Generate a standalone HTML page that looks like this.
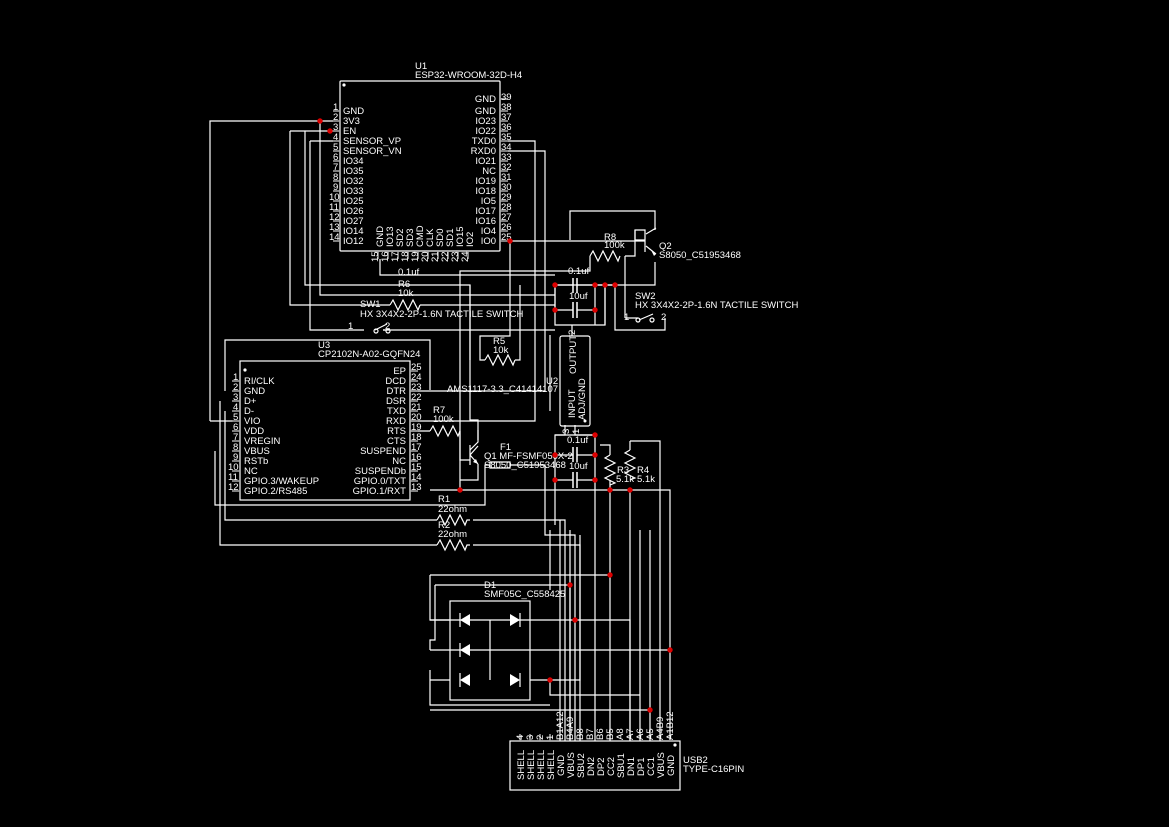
<!DOCTYPE html>
<html><head><meta charset="utf-8"><style>
html,body{margin:0;padding:0;background:#000;}
svg{display:block;}
text{font-family:"Liberation Sans",sans-serif;font-size:9.5px;fill:#fff;}
.w{stroke:#fff;stroke-width:1.2;fill:none;}
.p{stroke:#aaa;stroke-width:1.5;fill:none;}
.d{fill:#d00;}
</style></head><body>
<svg width="1169" height="827" viewBox="0 0 1169 827" xmlns="http://www.w3.org/2000/svg">
<rect width="1169" height="827" fill="#000"/>

<!-- U1 -->
<text x="415" y="69">U1</text>
<text x="415" y="78">ESP32-WROOM-32D-H4</text>
<rect x="340" y="81" width="160" height="170" class="w" rx="1"/>
<circle cx="344" cy="85" r="1.6" fill="#fff"/>
<g class="p">
<path d="M333 111h7M333 121h7M333 131h7M333 141h7M333 151h7M333 161h7M333 171h7M333 181h7M333 191h7M333 201h7M333 211h7M333 221h7M333 231h7M333 241h7"/>
<path d="M500 99h8M500 111h8M500 121h8M500 131h8M500 141h8M500 151h8M500 161h8M500 171h8M500 181h8M500 191h8M500 201h8M500 211h8M500 221h8M500 231h8M500 241h8"/>
<path d="M378 251v8M388 251v8M398 251v8M408 251v8M418 251v8M428 251v8M438 251v8M448 251v8M458 251v8M468 251v8"/>
</g>
<g font-size="9">
<text x="333" y="110">1</text><text x="333" y="120">2</text><text x="333" y="130">3</text><text x="333" y="140">4</text><text x="333" y="150">5</text><text x="333" y="160">6</text><text x="333" y="170">7</text><text x="333" y="180">8</text><text x="333" y="190">9</text><text x="329" y="200">10</text><text x="329" y="210">11</text><text x="329" y="220">12</text><text x="329" y="230">13</text><text x="329" y="240">14</text>
<text x="501" y="100">39</text><text x="501" y="110">38</text><text x="501" y="120">37</text><text x="501" y="130">36</text><text x="501" y="140">35</text><text x="501" y="150">34</text><text x="501" y="160">33</text><text x="501" y="170">32</text><text x="501" y="180">31</text><text x="501" y="190">30</text><text x="501" y="200">29</text><text x="501" y="210">28</text><text x="501" y="220">27</text><text x="501" y="230">26</text><text x="501" y="240">25</text>
</g>
<g>
<text x="343" y="114">GND</text><text x="343" y="124">3V3</text><text x="343" y="134">EN</text><text x="343" y="144">SENSOR_VP</text><text x="343" y="154">SENSOR_VN</text><text x="343" y="164">IO34</text><text x="343" y="174">IO35</text><text x="343" y="184">IO32</text><text x="343" y="194">IO33</text><text x="343" y="204">IO25</text><text x="343" y="214">IO26</text><text x="343" y="224">IO27</text><text x="343" y="234">IO14</text><text x="343" y="244">IO12</text>
</g>
<g text-anchor="end">
<text x="496" y="102">GND</text><text x="496" y="114">GND</text><text x="496" y="124">IO23</text><text x="496" y="134">IO22</text><text x="496" y="144">TXD0</text><text x="496" y="154">RXD0</text><text x="496" y="164">IO21</text><text x="496" y="174">NC</text><text x="496" y="184">IO19</text><text x="496" y="194">IO18</text><text x="496" y="204">IO5</text><text x="496" y="214">IO17</text><text x="496" y="224">IO16</text><text x="496" y="234">IO4</text><text x="496" y="244">IO0</text>
</g>
<g>
<text transform="translate(383,247) rotate(-90)">GND</text><text transform="translate(393,247) rotate(-90)">IO13</text><text transform="translate(403,247) rotate(-90)">SD2</text><text transform="translate(413,247) rotate(-90)">SD3</text><text transform="translate(423,247) rotate(-90)">CMD</text><text transform="translate(433,247) rotate(-90)">CLK</text><text transform="translate(443,247) rotate(-90)">SD0</text><text transform="translate(453,247) rotate(-90)">SD1</text><text transform="translate(463,247) rotate(-90)">IO15</text><text transform="translate(473,247) rotate(-90)">IO2</text>
</g>
<g font-size="9">
<text transform="translate(378,262) rotate(-90)">15</text><text transform="translate(388,262) rotate(-90)">16</text><text transform="translate(398,262) rotate(-90)">17</text><text transform="translate(408,262) rotate(-90)">18</text><text transform="translate(418,262) rotate(-90)">19</text><text transform="translate(428,262) rotate(-90)">20</text><text transform="translate(438,262) rotate(-90)">21</text><text transform="translate(448,262) rotate(-90)">22</text><text transform="translate(458,262) rotate(-90)">23</text><text transform="translate(468,262) rotate(-90)">24</text>
</g>

<!-- wires top -->
<g class="w">
<path d="M210 421V121H333"/>
<path d="M210 421H233"/>
<path d="M290 131H333M290 131V305H390M420 305H555"/>
<path d="M305 131V285H470V360"/>
<path d="M320 121V295H555"/>
<path d="M310 141H333M310 141V330H360M383 330H555"/>
<path d="M380 259V275H555"/>
<path d="M508 141H535V421H410"/>
<path d="M508 151H545V391H410"/>
<path d="M508 241H645M570 240V211H655V230M655 262V285H555"/>
<path d="M510 241V336H480V360H485M515 360H520V285"/>
<path d="M460 490V271H590V256M625 256H635V230M625 256V318"/>
<path d="M555 285V325H605V285M572 325V336"/>
<path d="M555 285V310H573M577 310H595M573 285H555M577 285H615"/>
<path d="M595 285V310M595 285V325"/>
<path d="M615 285V330H665V318M625 318H632"/>
<path d="M605 285V325"/>
<path d="M550 411V335"/>
<path d="M565 425V435H555V525M575 425V435H595V530"/>
<path d="M555 435H595M555 455H573M577 455H595M555 480H573M577 480H595"/>
<path d="M430 390V340H225V391"/>
<path d="M430 490H670V740M610 490V741M630 490V741"/>
<path d="M600 445H610V455M610 480V490M630 441H660V520M630 441V450"/>
<path d="M225 411V520H437M473 520H565V741"/>
<path d="M220 401V545H437M473 545H580V741"/>
<path d="M215 451V505H485V465H490M510 465H545V535H575V741"/>
<path d="M410 431H430M460 431V460H470M478 440V420H470V285M478 470V480H460"/>
<path d="M550 530V590M560 520V741M570 530V741M595 530V741"/>
<path d="M640 530V741M650 530V741M660 520V741"/>
<path d="M430 575H610M430 575V620H450"/>
<path d="M435 585H570V741M435 585V640H430V650"/>
<path d="M430 620H630V741M430 650H670M430 670V705H550"/>
<path d="M530 680H580V535M550 680V695H640"/>
<path d="M430 710H650"/>
<path d="M430 680H450"/>
</g>
<!-- resistors -->
<g class="w">
<path d="M390 305l3-5 5 10 5-10 5 10 5-10 5 10 2-5"/>
<path d="M485 360l3-5 5 10 5-10 5 10 5-10 5 10 2-5"/>
<path d="M590 256l3-5 5 10 5-10 5 10 5-10 5 10 2-5"/>
<path d="M430 431l3-5 5 10 5-10 5 10 5-10 5 10 2-5"/>
<path d="M437 520l3-5 5 10 5-10 5 10 5-10 5 10 2-5h3"/>
<path d="M437 545l3-5 5 10 5-10 5 10 5-10 5 10 2-5h3"/>
<path d="M610 455l-5 3 10 5-10 5 10 5-10 5 10 5-5 2"/>
<path d="M630 450l-5 3 10 5-10 5 10 5-10 5 10 5-5 2"/>
</g>
<!-- caps -->
<g stroke="#fff" stroke-width="1.5">
<path d="M573 278v15M577 278v15M573 302v16M577 302v16M573 447v15M577 447v15M573 472v16M577 472v16"/>
</g>
<!-- switches -->
<g class="w">
<path d="M360 330h4M375 330l12-6M387 330h-4"/>
<circle cx="376" cy="331" r="2"/><circle cx="388" cy="331" r="2"/>
<path d="M632 318h6M639 320l14-6"/>
<circle cx="638" cy="320" r="2"/><circle cx="652" cy="320" r="2"/>
</g>
<text x="348" y="329">1</text><text x="385" y="329">2</text>
<text x="624" y="320">1</text><text x="661" y="320">2</text>
<!-- transistors -->
<g class="w">
<path d="M645 240h-10v-10h10v22M646 234l10-6M646 246l10 8"/>
<path d="M478 430v12l-8 8v12M470 445v20M470 455l8-9M470 455l8 9M478 464v6"/>
<path d="M490 462h20v6h-20z"/>
</g>
<polygon points="656,254 651,250 654,256" fill="#fff"/>
<polygon points="478,464 473,462 476,459" fill="#fff"/>

<!-- labels -->
<text x="604" y="240">R8</text><text x="604" y="248">100k</text>
<text x="659" y="249">Q2</text><text x="659" y="258">S8050_C51953468</text>
<text x="635" y="299">SW2</text><text x="635" y="308">HX 3X4X2-2P-1.6N TACTILE SWITCH</text>
<text x="398" y="275">0.1uf</text><text x="568" y="274">0.1uf</text>
<text x="398" y="287">R6</text><text x="398" y="296">10k</text>
<text x="569" y="299">10uf</text>
<text x="360" y="307">SW1</text><text x="360" y="317">HX 3X4X2-2P-1.6N TACTILE SWITCH</text>
<text x="493" y="344">R5</text><text x="493" y="353">10k</text>
<text x="447" y="392">AMS1117-3.3_C41414107</text>
<text x="546" y="384">U2</text>
<text x="433" y="413">R7</text><text x="433" y="422">100k</text>
<text x="500" y="450">F1</text>
<text x="484" y="459">Q1 MF-FSMF050X-2</text>
<text x="484" y="468">S8050_C51953468</text>
<text x="567" y="443">0.1uf</text>
<text x="569" y="469">10uf</text>
<text x="617" y="473">R3</text><text x="616" y="482">5.1k</text>
<text x="637" y="473">R4</text><text x="637" y="482">5.1k</text>
<text x="438" y="502">R1</text><text x="438" y="512">22ohm</text>
<text x="438" y="528">R2</text><text x="438" y="537">22ohm</text>
<text x="484" y="588">D1</text><text x="484" y="597">SMF05C_C558425</text>

<!-- U2 -->
<rect x="560" y="336" width="30" height="90" rx="2" class="w"/>
<circle cx="585" cy="421" r="1.5" fill="#fff"/>
<text transform="translate(576,374) rotate(-90)">OUTPUT</text>
<text transform="translate(575,418) rotate(-90)">INPUT</text>
<text transform="translate(585,420) rotate(-90)">ADJ/GND</text>
<text font-size="9" transform="translate(575,335) rotate(-90)">2</text>
<text font-size="9" transform="translate(569,434) rotate(-90)">3</text>
<text font-size="9" transform="translate(579,434) rotate(-90)">1</text>

<!-- U3 -->
<text x="318" y="348">U3</text><text x="318" y="357">CP2102N-A02-GQFN24</text>
<rect x="240" y="361" width="170" height="139" class="w"/>
<circle cx="245" cy="370" r="1.6" fill="#fff"/>
<g class="p">
<path d="M232 381h8M232 391h8M232 401h8M232 411h8M232 421h8M232 431h8M232 441h8M232 451h8M232 461h8M232 471h8M232 481h8M232 491h8"/>
<path d="M410 371h8M410 381h8M410 391h8M410 401h8M410 411h8M410 421h8M410 431h8M410 441h8M410 451h8M410 461h8M410 471h8M410 481h8M410 491h8"/>
</g>
<g font-size="9">
<text x="233" y="380">1</text><text x="233" y="390">2</text><text x="233" y="400">3</text><text x="233" y="410">4</text><text x="233" y="420">5</text><text x="233" y="430">6</text><text x="233" y="440">7</text><text x="233" y="450">8</text><text x="233" y="460">9</text><text x="228" y="470">10</text><text x="228" y="480">11</text><text x="228" y="490">12</text>
<text x="411" y="370">25</text><text x="411" y="380">24</text><text x="411" y="390">23</text><text x="411" y="400">22</text><text x="411" y="410">21</text><text x="411" y="420">20</text><text x="411" y="430">19</text><text x="411" y="440">18</text><text x="411" y="450">17</text><text x="411" y="460">16</text><text x="411" y="470">15</text><text x="411" y="480">14</text><text x="411" y="490">13</text>
</g>
<g>
<text x="244" y="384">RI/CLK</text><text x="244" y="394">GND</text><text x="244" y="404">D+</text><text x="244" y="414">D-</text><text x="244" y="424">VIO</text><text x="244" y="434">VDD</text><text x="244" y="444">VREGIN</text><text x="244" y="454">VBUS</text><text x="244" y="464">RSTb</text><text x="244" y="474">NC</text><text x="244" y="484">GPIO.3/WAKEUP</text><text x="244" y="494">GPIO.2/RS485</text>
</g>
<g text-anchor="end">
<text x="406" y="374">EP</text><text x="406" y="384">DCD</text><text x="406" y="394">DTR</text><text x="406" y="404">DSR</text><text x="406" y="414">TXD</text><text x="406" y="424">RXD</text><text x="406" y="434">RTS</text><text x="406" y="444">CTS</text><text x="406" y="454">SUSPEND</text><text x="406" y="464">NC</text><text x="406" y="474">SUSPENDb</text><text x="406" y="484">GPIO.0/TXT</text><text x="406" y="494">GPIO.1/RXT</text>
</g>

<!-- D1 -->
<rect x="450" y="601" width="80" height="99" class="w"/>
<g class="w"><path d="M490 620V680"/></g>
<g fill="#fff">
<polygon points="460,620 470,614 470,626"/><polygon points="520,620 510,614 510,626"/>
<polygon points="460,650 470,644 470,656"/>
<polygon points="460,680 470,674 470,686"/><polygon points="520,680 510,674 510,686"/>
</g>
<g class="w"><path d="M460 613v14M520 613v14M460 643v14M460 673v14M520 673v14"/></g>

<!-- USB2 -->
<rect x="510" y="741" width="170" height="49" class="w"/>
<circle cx="675" cy="745" r="1.6" fill="#fff"/>
<text x="683" y="763">USB2</text><text x="683" y="772">TYPE-C16PIN</text>
<g class="p"><path d="M520 734v7M530 734v7M540 734v7M550 734v7"/></g>
<g>
<text transform="translate(524,780) rotate(-90)">SHELL</text><text transform="translate(534,780) rotate(-90)">SHELL</text><text transform="translate(544,780) rotate(-90)">SHELL</text><text transform="translate(554,780) rotate(-90)">SHELL</text>
<text transform="translate(564,776) rotate(-90)">GND</text><text transform="translate(574,778) rotate(-90)">VBUS</text><text transform="translate(584,778) rotate(-90)">SBU2</text><text transform="translate(594,776) rotate(-90)">DN2</text><text transform="translate(604,776) rotate(-90)">DP2</text><text transform="translate(614,776) rotate(-90)">CC2</text><text transform="translate(624,778) rotate(-90)">SBU1</text><text transform="translate(634,776) rotate(-90)">DN1</text><text transform="translate(644,776) rotate(-90)">DP1</text><text transform="translate(654,776) rotate(-90)">CC1</text><text transform="translate(664,778) rotate(-90)">VBUS</text><text transform="translate(674,776) rotate(-90)">GND</text>
</g>
<g font-size="9">
<text transform="translate(523,740) rotate(-90)">4</text><text transform="translate(533,740) rotate(-90)">3</text><text transform="translate(543,740) rotate(-90)">2</text><text transform="translate(553,740) rotate(-90)">1</text>
<text transform="translate(563,740) rotate(-90)">B1A12</text><text transform="translate(573,740) rotate(-90)">B4A9</text><text transform="translate(583,740) rotate(-90)">B8</text><text transform="translate(593,740) rotate(-90)">B7</text><text transform="translate(603,740) rotate(-90)">B6</text><text transform="translate(613,740) rotate(-90)">B5</text><text transform="translate(623,740) rotate(-90)">A8</text><text transform="translate(633,740) rotate(-90)">A7</text><text transform="translate(643,740) rotate(-90)">A6</text><text transform="translate(653,740) rotate(-90)">A5</text><text transform="translate(663,740) rotate(-90)">A4B9</text><text transform="translate(673,740) rotate(-90)">A1B12</text>
</g>

<!-- junction dots -->
<g class="d">
<circle cx="320" cy="121" r="2.7"/><circle cx="330" cy="131" r="2.7"/><circle cx="510" cy="241" r="2.7"/>
<circle cx="555" cy="285" r="2.7"/><circle cx="595" cy="285" r="2.7"/><circle cx="605" cy="285" r="2.7"/><circle cx="615" cy="285" r="2.7"/>
<circle cx="555" cy="310" r="2.7"/><circle cx="595" cy="310" r="2.7"/>
<circle cx="595" cy="435" r="2.7"/><circle cx="555" cy="455" r="2.7"/><circle cx="595" cy="455" r="2.7"/><circle cx="555" cy="480" r="2.7"/><circle cx="595" cy="480" r="2.7"/>
<circle cx="460" cy="490" r="2.7"/><circle cx="610" cy="490" r="2.7"/><circle cx="630" cy="490" r="2.7"/>
<circle cx="610" cy="575" r="2.7"/><circle cx="570" cy="585" r="2.7"/><circle cx="575" cy="620" r="2.7"/><circle cx="670" cy="650" r="2.7"/><circle cx="550" cy="680" r="2.7"/><circle cx="650" cy="710" r="2.7"/>
</g>
</svg>
</body></html>
